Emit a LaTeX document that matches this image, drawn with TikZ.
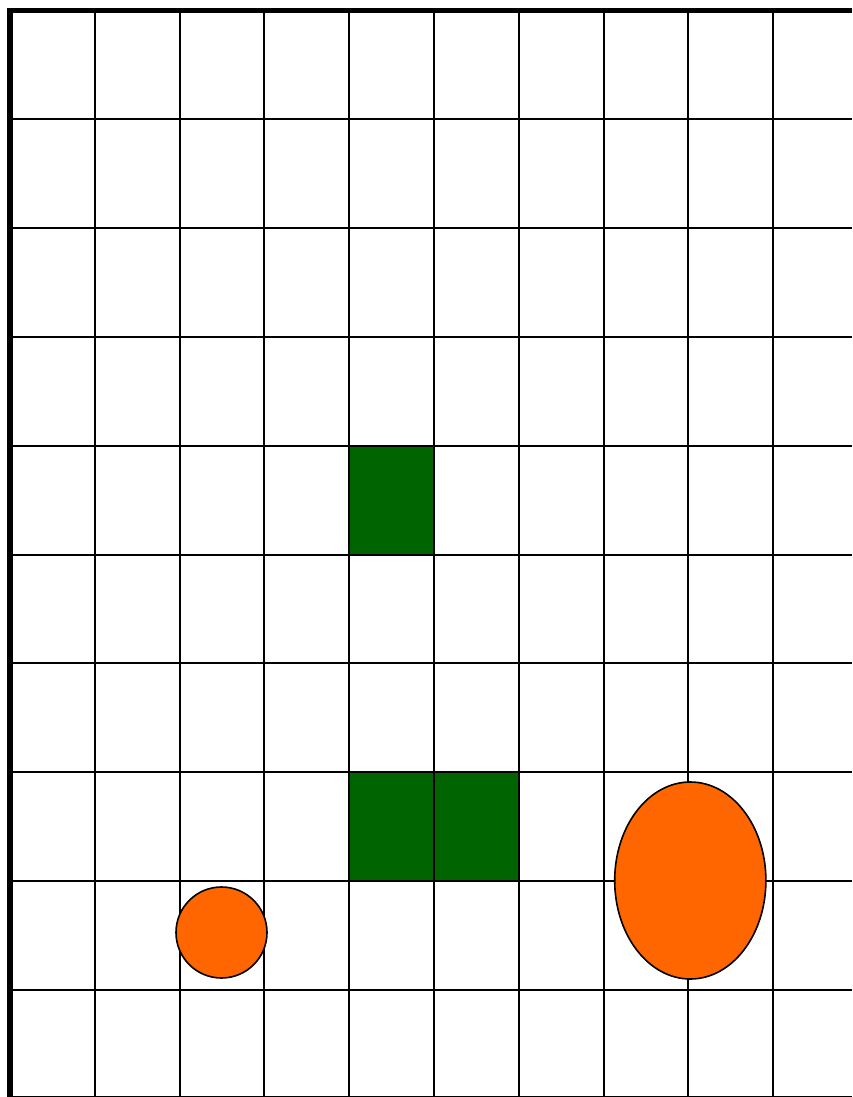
\documentclass[tikz,border=0pt]{standalone}
\usepackage{xcolor}
\definecolor{cellgreen}{HTML}{006400}
\definecolor{blobfill}{HTML}{FF6600}
\tikzset{
  gridline/.style={line width=2pt, color=black},
  border/.style={line width=5.5pt, color=black},
  filled/.style={fill=cellgreen},
  blob/.style={fill=blobfill, draw=black, line width=1.6pt}
}
\newcommand{\cw}{84.8}
\newcommand{\ch}{108.9}

\begin{document}
\begin{tikzpicture}[x=1pt, y=-1pt]
\useasboundingbox (0,0) rectangle (852,1097);
% green cells
\fill[filled] (10+4*\cw,10+4*\ch) rectangle (10+5*\cw,10+5*\ch);
\fill[filled] (10+4*\cw,10+7*\ch) rectangle (10+6*\cw,10+8*\ch);
% grid
\foreach \i in {1,...,9} {
  \draw[gridline] (10+\i*\cw,10) -- (10+\i*\cw,1097);
  \draw[gridline] (10,10+\i*\ch) -- (852,10+\i*\ch);
}
\draw[gridline] (10,1097) -- (852,1097);
\draw[border] (10,1097) -- (10,10.5) -- (852,10.5);
% orange shapes
\draw[blob] (221.5,932.5) circle (45.5);
\draw[blob] (690.3,880.5) ellipse (75.6 and 98.5);
\end{tikzpicture}
\end{document}
